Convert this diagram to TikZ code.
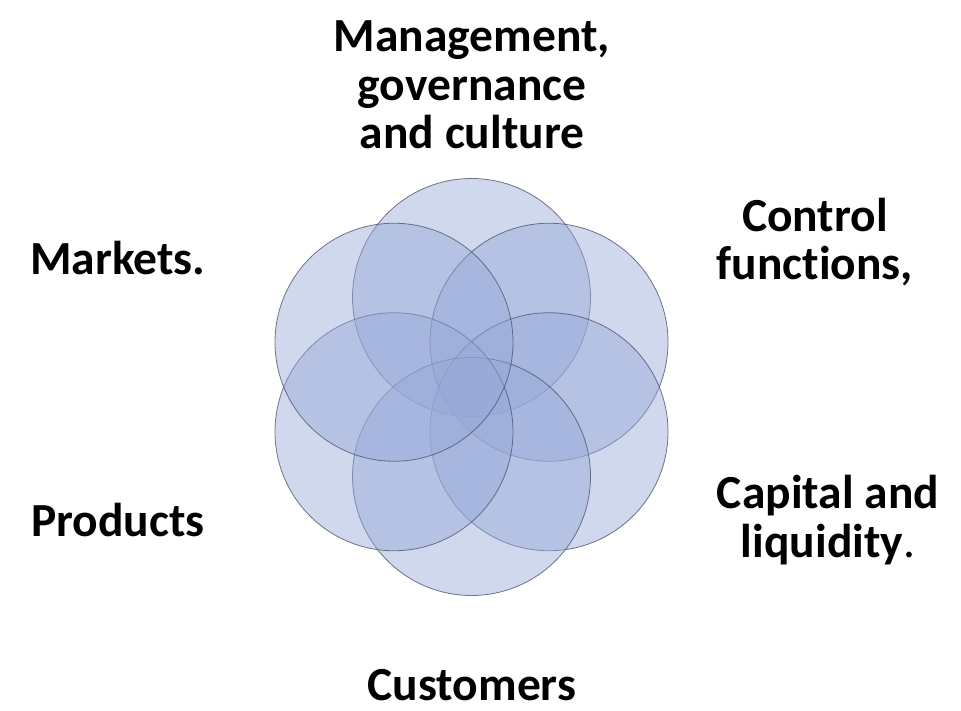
\documentclass[tikz,border=0pt]{standalone}
\usepackage{fontspec}
\setmainfont{Carlito}[RawFeature={-liga}]
\usepackage{tikz}
\definecolor{petalfill}{RGB}{150,168,215}
\definecolor{petaledge}{RGB}{80,86,108}
\tikzset{
	petal/.style={circle, draw=petaledge, line width=0.8pt, draw opacity=0.8, fill=petalfill, fill opacity=0.45, minimum size=238pt, inner sep=0pt},
	lbl/.style={font=\fontsize{47.5}{48.5}\selectfont\bfseries, align=center, inner sep=0pt}
}

\begin{document}
\begin{tikzpicture}[x=1pt,y=1pt]
		%\draw [help lines] (0,0) grid (961,710);
		\useasboundingbox (0,0) rectangle (961,710);
		\coordinate (ctr) at (471.5,323);
		
		\foreach \name/\ang in {mgmt/90,ctrl/30,cap/-30,cust/-90,prod/-150,mkt/150}
			\node [petal] (\name) at ([shift={(\ang:89.5)}]ctr) {};
		
		\node [lbl] (mgmtlbl) at (472,625) {Management,\\governance\\and culture};
		\node [lbl] (ctrllbl) at (815,468) {Control\\functions,};
		\node [lbl] (caplbl) at (828,190) {Capital and\\liquidity\textmd{.}};
		\node [lbl] (custlbl) at (472,25) {Customers};
		\node [lbl] (prodlbl) at (118,190) {Products};
		\node [lbl] (mktlbl) at (118,452) {Markets.};
	\end{tikzpicture}
\end{document}
